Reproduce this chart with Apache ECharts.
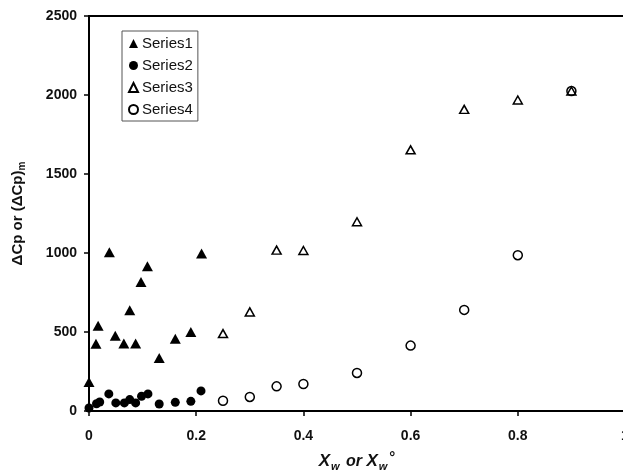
<!DOCTYPE html>
<html>
<head>
<meta charset="utf-8">
<script src="https://cdn.jsdelivr.net/npm/echarts@6/dist/echarts.min.js"></script>
<style>
  html, body { margin: 0; padding: 0; background: #fff; overflow: hidden; }
  #chart { width: 630px; height: 472px; }
</style>
</head>
<body>
<div id="chart"></div>
<script>
// Mole-fraction axis values and heat-capacity values for each series
const series1X = [0.000, 0.013, 0.017, 0.038, 0.049, 0.065, 0.076, 0.087, 0.097, 0.109, 0.131, 0.161, 0.190, 0.210];
const series1Y = [184, 425, 540, 1005, 477, 428, 638, 428, 817, 916, 336, 458, 500, 997];

const series2X = [0.000, 0.014, 0.020, 0.037, 0.050, 0.066, 0.076, 0.087, 0.098, 0.110, 0.131, 0.161, 0.190, 0.209];
const series2Y = [19, 46, 57, 108, 51, 51, 72, 51, 93, 108, 44, 55, 61, 127];

const series3X = [0.25, 0.30, 0.35, 0.40, 0.50, 0.60, 0.70, 0.80, 0.90];
const series3Y = [490, 627, 1018, 1016, 1198, 1653, 1909, 1968, 2025];

const series4X = [0.25, 0.30, 0.35, 0.40, 0.50, 0.60, 0.70, 0.80, 0.90];
const series4Y = [65, 89, 156, 171, 241, 414, 640, 986, 2025];

const seriesNames = ['Series1', 'Series2', 'Series3', 'Series4'];

const zip = (xs, ys) => xs.map((x, i) => [x, ys[i]]);

const FONT = 'Liberation Sans, Arial, sans-serif';

const chart = echarts.init(document.getElementById('chart'));

chart.setOption({
  animation: false,
  backgroundColor: '#fff',
  grid: {
    left: 89, right: 5, top: 16, bottom: 61,
    containLabel: false, outerBoundsMode: 'none',
    show: true, borderColor: '#000', borderWidth: 2
  },
  legend: {
    orient: 'vertical',
    left: 122, top: 31,
    borderColor: '#555', borderWidth: 1,
    padding: [5, 5, 4, 6],
    itemWidth: 9, itemHeight: 9, itemGap: 7,
    textStyle: { fontFamily: FONT, fontSize: 15, color: '#111', padding: [0, 0, 0, -1] },
    data: seriesNames
  },
  xAxis: {
    type: 'value', min: 0, max: 1, interval: 0.2,
    axisLine: { show: true, onZero: false, lineStyle: { color: '#000', width: 2 } },
    axisTick: { show: true, inside: false, length: 5, lineStyle: { color: '#000', width: 1.5 } },
    axisLabel: { margin: 18, fontFamily: FONT, fontSize: 14, fontWeight: 'bold', color: '#111',
                 formatter: v => String(Math.round(v * 10) / 10) },
    splitLine: { show: false },
    name: '{x|X}{w|w}{o| or }{x|X}{w|w}{d|°}',
    nameLocation: 'middle', nameGap: 39,
    nameTextStyle: {
      rich: {
        x: { fontFamily: FONT, fontSize: 17, fontWeight: 'bold', fontStyle: 'italic', color: '#111' },
        w: { fontFamily: FONT, fontSize: 11, fontWeight: 'bold', fontStyle: 'italic', color: '#111', padding: [10, 2, 0, 1] },
        o: { fontFamily: FONT, fontSize: 16, fontWeight: 'bold', fontStyle: 'italic', color: '#111' },
        d: { fontFamily: FONT, fontSize: 15, fontWeight: 'bold', color: '#111', padding: [0, 0, 8, 0] }
      }
    }
  },
  yAxis: {
    type: 'value', min: 0, max: 2500, interval: 500,
    axisLine: { show: true, onZero: false, lineStyle: { color: '#000', width: 2 } },
    axisTick: { show: true, inside: false, length: 5, lineStyle: { color: '#000', width: 1.5 } },
    axisLabel: { margin: 12, fontFamily: FONT, fontSize: 14, fontWeight: 'bold', color: '#111',
                 formatter: v => String(v) },
    splitLine: { show: false },
    name: '{a|ΔCp or (ΔCp)}{s|m}',
    nameLocation: 'middle', nameGap: 62,
    nameTextStyle: {
      rich: {
        a: { fontFamily: FONT, fontSize: 15, fontWeight: 'bold', color: '#111' },
        s: { fontFamily: FONT, fontSize: 10, fontWeight: 'bold', color: '#111', padding: [8, 0, 0, 0] }
      }
    }
  },
  series: [
    {
      name: seriesNames[0], type: 'scatter', symbol: 'triangle', symbolSize: [11, 10],
      itemStyle: { color: '#000', opacity: 1 },
      data: zip(series1X, series1Y)
    },
    {
      name: seriesNames[1], type: 'scatter', symbol: 'circle', symbolSize: 9,
      itemStyle: { color: '#000', opacity: 1 },
      data: zip(series2X, series2Y)
    },
    {
      name: seriesNames[2], type: 'scatter', symbol: 'triangle', symbolSize: [9, 8],
      itemStyle: { color: '#fff', borderColor: '#000', borderWidth: 1.5, opacity: 1 },
      data: zip(series3X, series3Y)
    },
    {
      name: seriesNames[3], type: 'scatter', symbol: 'circle', symbolSize: 9,
      itemStyle: { color: 'rgba(255,255,255,0)', borderColor: '#000', borderWidth: 1.5, opacity: 1 },
      data: zip(series4X, series4Y)
    }
  ]
});
</script>
</body>
</html>
